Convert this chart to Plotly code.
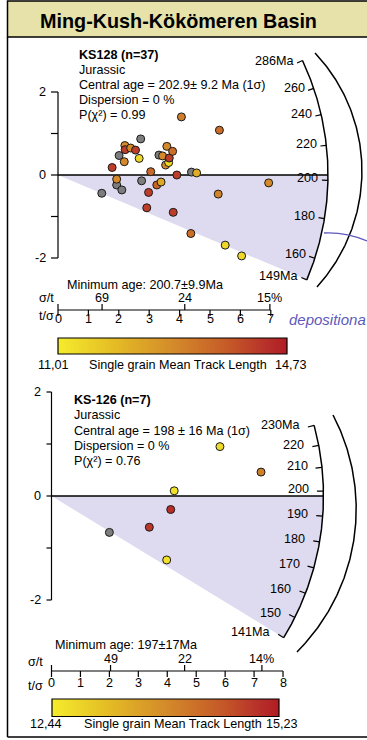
import numpy as np
import plotly.graph_objects as go

W, H = 367, 740
FONT = "Liberation Sans, Arial, Helvetica, sans-serif"
FS = 12.6

# ------------------------------------------------------------------ data
TITLE = "Ming-Kush-Kökömeren Basin"

# ---- KS128
ks128_header = ["<b>KS128 (n=37)</b>", "Jurassic", "Central age = 202.9± 9.2 Ma (1σ)",
                "Dispersion = 0 %", "P(χ²) = 0.99"]
ks128_central = 202.9
ks128_tsig = [1.44, 1.78, 1.93, 1.93, 2.01, 2.10, 2.18, 2.20, 2.21, 2.39,
              2.55, 2.67, 2.72, 2.75, 2.92, 2.98, 3.05, 3.25, 3.32, 3.39,
              3.44, 3.54, 3.58, 3.64, 3.66, 3.77, 3.79, 3.91, 4.37, 4.39,
              4.56, 5.27, 5.50, 6.04, 6.93, 5.31, 4.06]
ks128_z = [-0.44, 0.18, -0.10, -0.24, 0.47, -0.36, 0.32, 0.71, 0.61, 0.65,
           0.60, 0.40, 0.87, -0.14, -0.79, -0.42, 0.08, -0.24, 0.48, -0.17,
           0.46, 0.24, 0.69, 0.30, 0.41, 0.57, -0.90, 0.00, -1.41, 0.07,
           0.05, -0.46, -1.69, -1.95, -0.19, 1.08, 1.40]
ks128_mtl = [None, 14.2, 12.9, None, None, None, 12.9, 12.9, 14.2, 12.9,
             14.2, 11.4, None, None, 14.2, 14.2, 13.5, 13.6, None, 12.3,
             12.9, 12.9, 12.9, 11.4, 14.2, 13.4, 14.2, 14.2, 13.4, None,
             12.2, 13.0, 11.4, 11.4, 12.9, 13.4, 13.1]
ks128_arc_ages = [286, 260, 240, 220, 200, 180, 160, 149]
ks128_arc_labels = ["286Ma", "260", "240", "220", "200", "180", "160", "149Ma"]
ks128_shade_ages = [202.9, 149]
ks128_tsig_ticks = [0, 1, 2, 3, 4, 5, 6, 7]
ks128_sigt_pos = [0, 1.45, 4.17, 6.97]
ks128_sigt_labels = ["", "69", "24", "15%"]
ks128_min_age = "Minimum age: 200.7±9.9Ma"
ks128_mtl_range = [11.01, 14.73]
ks128_mtl_text = ["11,01", "14,73"]

# ---- KS-126
ks126_header = ["<b>KS-126 (n=7)</b>", "Jurassic", "Central age = 198 ± 16 Ma (1σ)",
                "Dispersion = 0 %", "P(χ²) = 0.76"]
ks126_central = 198.0
ks126_tsig = [5.82, 7.24, 4.24, 4.12, 3.38, 2.00, 3.98]
ks126_z = [0.95, 0.46, 0.10, -0.26, -0.60, -0.70, -1.23]
ks126_mtl = [12.7, 14.0, 12.6, 15.0, 14.9, None, 12.6]
ks126_arc_ages = [230, 220, 210, 200, 190, 180, 170, 160, 150, 141]
ks126_arc_labels = ["230Ma", "220", "210", "200", "190", "180", "170", "160", "150", "141Ma"]
ks126_shade_ages = [198.0, 141]
ks126_tsig_ticks = [0, 1, 2, 3, 4, 5, 6, 7, 8]
ks126_sigt_pos = [0, 2.04, 4.6, 7.27]
ks126_sigt_labels = ["", "49", "22", "14%"]
ks126_min_age = "Minimum age: 197±17Ma"
ks126_mtl_range = [12.44, 15.23]
ks126_mtl_text = ["12,44", "15,23"]

z_ticks = [-2, -1, 0, 1, 2]
z_tick_labels = ["-2", "", "0", "", "2"]

DEPO_TEXT = "depositiona"

# ------------------------------------------------------------------ styling / layout
CS = [[0.0, "#f5ec2c"], [0.25, "#e4bb25"], [0.5, "#d48b2a"], [0.75, "#c55828"],
      [0.9, "#b8322a"], [1.0, "#b01d24"]]
GREY = "#7d7d7d"
SHADE = "#dedaf0"
PURPLE = "#5e59bb"

P1 = dict(xa="x", ya="y", ox=58, oy=175, sx=30.4, sy=41.5, R=270, tick=6, gap=1.5,
          ytick=7, ylab_gap=3, axis_row=310, sigt_row=298, tsig_row=319,
          sigt_name=(46, 298), tsig_name=(46, 316), min_age=(65, 285),
          cb=(58, 287, 338, 354), cb_row=365, cb_left=53, cb_mid=87, cb_right=291,
          head_x=76.7, head_y=[55, 69.5, 84.5, 100, 114.5], cbx="x4", cby="y4")
P2 = dict(xa="x2", ya="y2", ox=51.5, oy=496, sx=28.94, sy=52, R=272, tick=6.5, gap=6,
          ytick=5, ylab_gap=4, axis_row=671, sigt_row=659, tsig_row=683,
          sigt_name=(35, 662), tsig_name=(35, 686), min_age=(53, 645),
          cb=(52, 279, 699, 716.5), cb_row=724, cb_left=46, cb_mid=82, cb_right=282,
          head_x=71.7, head_y=[400, 415, 430.5, 446, 460.5], cbx="x5", cby="y5")

fig = go.Figure()
shapes = []
annos = []


def radial(age, t0, p, r):
    s = np.log(np.asarray(age, float) / t0)
    th = np.arctan2(p["sy"] * s, p["sx"])
    return r * np.cos(th) / p["sx"], r * np.sin(th) / p["sy"]


def txt(x, y, text, xref="x3", yref="y3", xanchor="left", size=FS, color="black", **kw):
    annos.append(dict(x=x, y=y, xref=xref, yref=yref, text=text, showarrow=False,
                      xanchor=xanchor, yanchor="middle",
                      font=dict(family=FONT, size=size, color=color), **kw))


def panel(p, central, tsig, z, mtl, arc_ages, arc_labels, shade_ages, tsig_ticks,
          sigt_pos, sigt_labels, min_age, mtl_range, mtl_text, header):
    xa, ya = p["xa"], p["ya"]
    R = p["R"]
    # shaded sector
    sa = np.geomspace(shade_ages[0], shade_ages[1], 120)
    sx_, sy_ = radial(sa, central, p, R)
    fig.add_trace(go.Scatter(x=[0] + list(sx_) + [0], y=[0] + list(sy_) + [0], mode="lines",
                             fill="toself", fillcolor=SHADE, line=dict(width=0),
                             xaxis=xa, yaxis=ya, hoverinfo="skip"))
    # central line
    cx, cy = radial([central], central, p, R)
    fig.add_trace(go.Scatter(x=[0, cx[0]], y=[0, cy[0]], mode="lines",
                             line=dict(color="black", width=1.6), xaxis=xa, yaxis=ya,
                             hoverinfo="skip"))
    # arc
    aa = np.geomspace(max(arc_ages), min(arc_ages), 300)
    ax_, ay_ = radial(aa, central, p, R)
    fig.add_trace(go.Scatter(x=ax_, y=ay_, mode="lines", line=dict(color="black", width=1.5),
                             xaxis=xa, yaxis=ya, hoverinfo="skip"))
    # arc ticks + labels
    ox_, oy_ = radial(arc_ages, central, p, R)
    ix_, iy_ = radial(arc_ages, central, p, R - p["tick"])
    for a, b, c, d, lab in zip(ox_, oy_, ix_, iy_, arc_labels):
        shapes.append(dict(type="line", xref=xa, yref=ya, x0=c, y0=d, x1=a, y1=b,
                           line=dict(color="black", width=1.2)))
        annos.append(dict(x=c, y=d, xref=xa, yref=ya, text=lab, showarrow=False,
                          xanchor="right", yanchor="middle", xshift=-p["gap"], yshift=2,
                          font=dict(family=FONT, size=FS, color="black")))
    # z axis
    shapes.append(dict(type="line", xref=xa, yref=ya, x0=0, x1=0, y0=min(z_ticks),
                       y1=max(z_ticks), line=dict(color="black", width=1.2)))
    for v, lab in zip(z_ticks, z_tick_labels):
        shapes.append(dict(type="line", xref=xa, yref=ya, xsizemode="pixel", xanchor=0,
                           x0=-p["ytick"], x1=0, y0=v, y1=v,
                           line=dict(color="black", width=1.2)))
        if lab:
            annos.append(dict(x=0, y=v, xref=xa, yref=ya, text=lab, showarrow=False,
                              xanchor="right", yanchor="middle",
                              xshift=-(p["ytick"] + p["ylab_gap"]),
                              font=dict(family=FONT, size=FS, color="black")))
    # points
    ci = [i for i, m in enumerate(mtl) if m is not None]
    gi = [i for i, m in enumerate(mtl) if m is None]
    fig.add_trace(go.Scatter(x=[tsig[i] for i in gi], y=[z[i] for i in gi], mode="markers",
                             marker=dict(size=8, color=GREY, line=dict(color="#1a1a1a", width=1)),
                             xaxis=xa, yaxis=ya, hoverinfo="skip"))
    fig.add_trace(go.Scatter(x=[tsig[i] for i in ci], y=[z[i] for i in ci], mode="markers",
                             marker=dict(size=8, color=[mtl[i] for i in ci], colorscale=CS,
                                         cmin=mtl_range[0], cmax=mtl_range[1],
                                         line=dict(color="#1a1a1a", width=1)),
                             xaxis=xa, yaxis=ya, hoverinfo="skip"))
    # precision axis
    row = p["axis_row"]
    shapes.append(dict(type="line", xref=xa, yref="y3", x0=0, x1=max(tsig_ticks),
                       y0=row, y1=row, line=dict(color="black", width=1.2)))
    for v in tsig_ticks:
        shapes.append(dict(type="line", xref=xa, yref="y3", x0=v, x1=v, y0=row, y1=row + 6,
                           line=dict(color="black", width=1.2)))
        txt(v, p["tsig_row"], str(v), xref=xa, xanchor="center")
    for v, lab in zip(sigt_pos, sigt_labels):
        shapes.append(dict(type="line", xref=xa, yref="y3", x0=v, x1=v, y0=row - 6, y1=row,
                           line=dict(color="black", width=1.2)))
        if lab:
            txt(v, p["sigt_row"], lab, xref=xa, xanchor="center")
    txt(p["sigt_name"][0], p["sigt_name"][1], "σ/t", xanchor="center")
    txt(p["tsig_name"][0], p["tsig_name"][1], "t/σ", xanchor="center")
    txt(p["min_age"][0], p["min_age"][1], min_age)
    # header text
    for t, yy in zip(header, p["head_y"]):
        txt(p["head_x"], yy, t)
    # colour bar
    x0, x1, y0, y1 = p["cb"]
    N = 256
    edges = np.linspace(mtl_range[0], mtl_range[1], N + 1)
    cen = (edges[:-1] + edges[1:]) / 2
    fig.add_trace(go.Heatmap(x=cen, y=[0], z=[cen], colorscale=CS, zmin=mtl_range[0],
                             zmax=mtl_range[1], showscale=False, xaxis=p["cbx"],
                             yaxis=p["cby"], hoverinfo="skip"))
    fig.layout[p["cbx"].replace("x", "xaxis")] = dict(domain=[x0 / W, x1 / W],
                                                       range=mtl_range, visible=False,
                                                       anchor=p["cby"], fixedrange=True)
    fig.layout[p["cby"].replace("y", "yaxis")] = dict(domain=[1 - y1 / H, 1 - y0 / H],
                                                       range=[-0.5, 0.5], visible=False,
                                                       anchor=p["cbx"], fixedrange=True)
    shapes.append(dict(type="rect", xref="x3", yref="y3", x0=x0, x1=x1, y0=y0, y1=y1,
                       line=dict(color="black", width=1.2)))
    txt(p["cb_left"], p["cb_row"], mtl_text[0], xanchor="center")
    txt(p["cb_mid"], p["cb_row"], "Single grain Mean Track Length")
    txt(p["cb_right"], p["cb_row"], mtl_text[1], xanchor="center")


panel(P1, ks128_central, ks128_tsig, ks128_z, ks128_mtl, ks128_arc_ages, ks128_arc_labels,
      ks128_shade_ages, ks128_tsig_ticks, ks128_sigt_pos, ks128_sigt_labels, ks128_min_age,
      ks128_mtl_range, ks128_mtl_text, ks128_header)
panel(P2, ks126_central, ks126_tsig, ks126_z, ks126_mtl, ks126_arc_ages, ks126_arc_labels,
      ks126_shade_ages, ks126_tsig_ticks, ks126_sigt_pos, ks126_sigt_labels, ks126_min_age,
      ks126_mtl_range, ks126_mtl_text, ks126_header)

# outer decorative arcs (pixel space)
for (ccx, ccy), (sx0, sy0), (ex0, ey0) in [((190, 171), (315, 53), (317, 287)),
                                            ((154, 509), (333, 415), (297, 652))]:
    r = 0.5 * (np.hypot(sx0 - ccx, sy0 - ccy) + np.hypot(ex0 - ccx, ey0 - ccy))
    t = np.linspace(np.arctan2(sy0 - ccy, sx0 - ccx), np.arctan2(ey0 - ccy, ex0 - ccx), 200)
    fig.add_trace(go.Scatter(x=ccx + r * np.cos(t), y=ccy + r * np.sin(t), mode="lines",
                             line=dict(color="black", width=1.5), xaxis="x3", yaxis="y3",
                             hoverinfo="skip"))

# depositional-age line (purple)
shapes.append(dict(type="path", xref="x3", yref="y3", path="M 324,233 Q 346,232 367,241",
                   line=dict(color=PURPLE, width=1.3)))
txt(287, 319, "<i>" + DEPO_TEXT + "</i>", size=15, color=PURPLE)

# frame & title band
shapes.append(dict(type="rect", xref="x3", yref="y3", x0=7.5, x1=368, y0=1, y1=37,
                   fillcolor="#e6e2aa", line=dict(color="black", width=1.5), layer="below"))
shapes.append(dict(type="line", xref="x3", yref="y3", x0=7.5, x1=7.5, y0=37, y1=737,
                   line=dict(color="black", width=1.5)))
shapes.append(dict(type="line", xref="x3", yref="y3", x0=7.5, x1=367, y0=737, y1=737,
                   line=dict(color="black", width=1.5)))
annos.append(dict(x=178.5, y=21, xref="x3", yref="y3", text="<b>" + TITLE + "</b>",
                  showarrow=False, xanchor="center", yanchor="middle",
                  font=dict(family=FONT, size=19.8, color="black")))

# axes
for p, xn, yn in [(P1, "xaxis", "yaxis"), (P2, "xaxis2", "yaxis2")]:
    fig.layout[xn] = dict(domain=[0, 1], range=[-p["ox"] / p["sx"], (W - p["ox"]) / p["sx"]],
                          visible=False, anchor=p["ya"], fixedrange=True)
    fig.layout[yn] = dict(domain=[0, 1], range=[(p["oy"] - H) / p["sy"], p["oy"] / p["sy"]],
                          visible=False, anchor=p["xa"], fixedrange=True)
fig.layout["xaxis3"] = dict(domain=[0, 1], range=[0, W], visible=False, anchor="y3",
                            fixedrange=True)
fig.layout["yaxis3"] = dict(domain=[0, 1], range=[H, 0], visible=False, anchor="x3",
                            fixedrange=True)

fig.update_layout(width=W, height=H, autosize=False, margin=dict(l=0, r=0, t=0, b=0, pad=0),
                  paper_bgcolor="white", plot_bgcolor="rgba(0,0,0,0)", showlegend=False,
                  shapes=shapes, annotations=annos, font=dict(family=FONT))
fig.write_html("out.html")
